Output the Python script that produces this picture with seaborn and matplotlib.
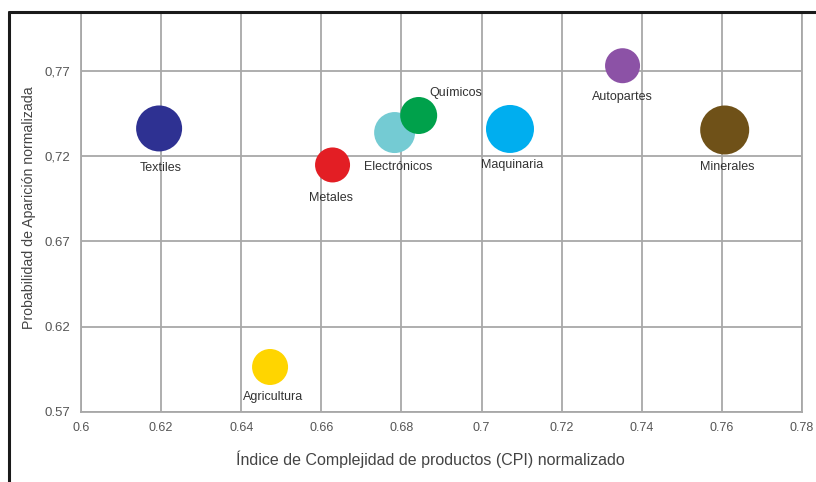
import matplotlib
matplotlib.use('Agg')
import numpy as np
import pandas as pd
import matplotlib.pyplot as plt
from matplotlib.lines import Line2D
import seaborn as sns

# datos
sectores = ['Textiles', 'Agricultura', 'Metales', 'Electrónicos', 'Químicos',
            'Maquinaria', 'Autopartes', 'Minerales']
cpi = [0.6195, 0.6472, 0.6628, 0.6783, 0.6843, 0.7071, 0.7352, 0.7607]
prob = [0.7363, 0.5964, 0.7149, 0.7339, 0.7439, 0.7360, 0.7731, 0.7354]
tamano = [46, 36, 35, 41, 37, 48, 35, 49]

colores = ['#2e3192', '#ffd500', '#e31e24', '#74cbd3', '#00a14b',
           '#00aeef', '#8c52a6', '#6f5118']

x_ticks = [0.6, 0.62, 0.64, 0.66, 0.68, 0.7, 0.72, 0.74, 0.76, 0.78]
x_labels = ['0.6', '0.62', '0.64', '0.66', '0.68', '0.7', '0.72', '0.74', '0.76', '0.78']
y_ticks = [0.57, 0.62, 0.67, 0.72, 0.77]
y_labels = ['0.57', '0.62', '0.67', '0,72', '0,77']

# desplazamiento de las etiquetas (pixeles)
offsets = [(2, -40), (3, -30), (-2, -33), (4, -34), (37, 23), (2, -36), (0, -31), (3, -37)]

df = pd.DataFrame({'sector': sectores, 'cpi': cpi, 'prob': prob, 'tamano': tamano})

sns.set_style('white')
plt.rcParams['font.family'] = ['Liberation Sans', 'DejaVu Sans']

fig = plt.figure(figsize=(8.16, 4.82), dpi=100)
ax = fig.add_axes([81 / 816, 1 - 412 / 482, (802 - 81) / 816, (412 - 12) / 482])

sns.scatterplot(data=df, x='cpi', y='prob', hue='sector', palette=colores,
                s=(df['tamano'] * 0.72) ** 2, linewidth=0, alpha=1,
                legend=False, ax=ax, zorder=3)

for i, row in df.iterrows():
    ax.annotate(row['sector'], (row['cpi'], row['prob']), xytext=offsets[i],
                textcoords='offset pixels', ha='center', va='center',
                fontsize=9, color='#333333', zorder=4)

ax.set_xlim(0.6, 0.78)
ax.set_ylim(0.57, 0.77 + 59 / 1705)
ax.set_xticks(x_ticks)
ax.set_xticklabels(x_labels)
ax.set_yticks(y_ticks)
ax.set_yticklabels(y_labels)
ax.tick_params(axis='both', length=0, labelcolor='#555555')
ax.tick_params(axis='x', pad=7, labelsize=9)
ax.tick_params(axis='y', pad=8, labelsize=9.5)
ax.grid(True, color='#a8a8a8', linewidth=1.3)
ax.set_axisbelow(True)
for s in ax.spines.values():
    s.set_color('#a8a8a8')
    s.set_linewidth(1.3)

ax.set_xlabel('Índice de Complejidad de productos (CPI) normalizado',
              fontsize=11.5, color='#444444')
ax.set_ylabel('Probabilidad de Aparición normalizada',
              fontsize=10.2, color='#444444')
ax.xaxis.set_label_coords(0.4847, -0.095)
ax.yaxis.set_label_coords((36 - 81) / 721, 0.51)

# marco negro superior e izquierdo
fig.add_artist(Line2D([9 / 816, 1], [1 - 12 / 482, 1 - 12 / 482],
                      transform=fig.transFigure, color='#1a1a1a', linewidth=2.2))
fig.add_artist(Line2D([9 / 816, 9 / 816], [0, 1 - 12 / 482],
                      transform=fig.transFigure, color='#1a1a1a', linewidth=2.2))

fig.savefig('out.png', dpi=100)
